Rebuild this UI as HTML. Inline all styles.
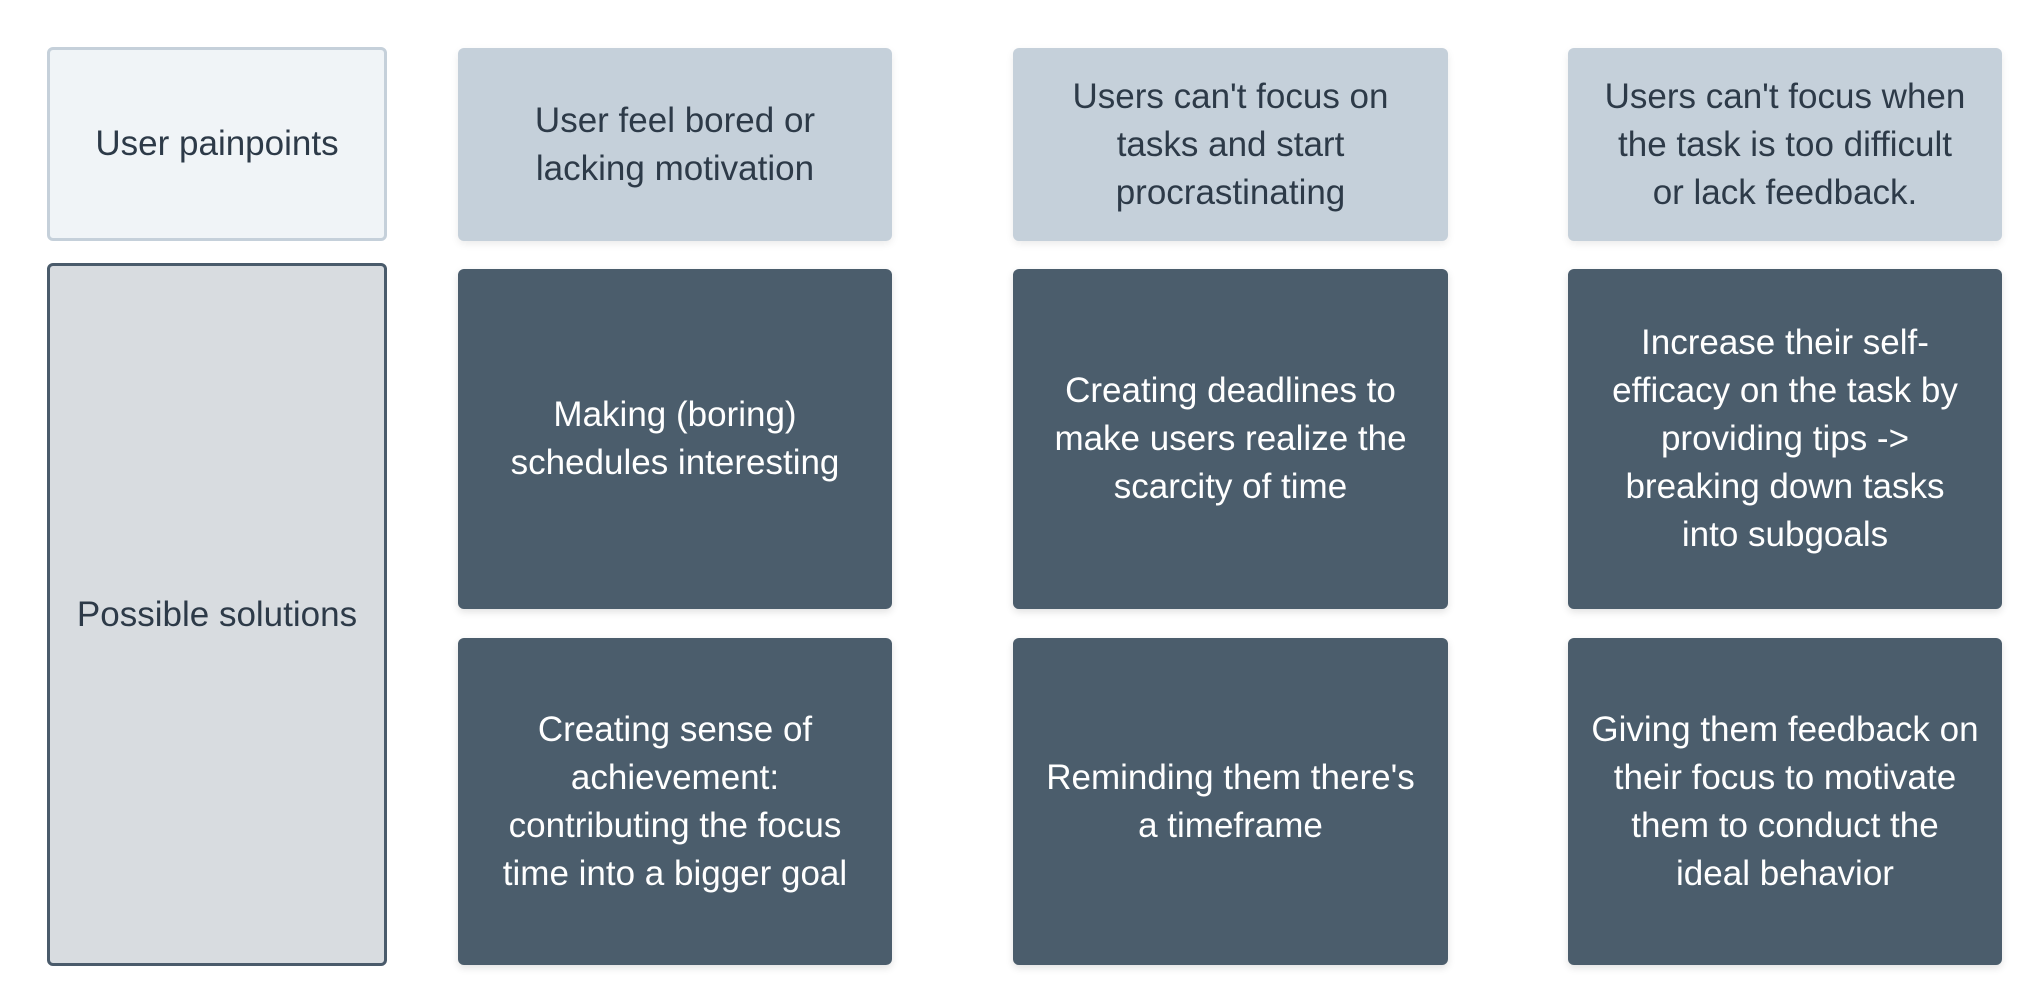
<!DOCTYPE html>
<html><head><meta charset="utf-8"><style>
html,body{margin:0;padding:0;background:#fff;}
body{width:2040px;height:1008px;position:relative;overflow:hidden;font-family:"Liberation Sans",sans-serif;}
.b{position:absolute;box-sizing:border-box;display:flex;align-items:center;justify-content:center;text-align:center;font-size:35px;line-height:48px;letter-spacing:0;border-radius:6px;}
.l1{left:47px;top:47px;width:340px;height:194px;background:#f0f4f7;border:3px solid #c5d0da;color:#2d3a48;}
.l2{left:47px;top:263px;width:340px;height:703px;background:#d8dce0;border:3px solid #4a5b6b;color:#2d3a48;}
.t{top:48px;height:193px;background:#c5d0da;color:#2d3a48;box-shadow:0 3px 8px rgba(0,0,0,0.08);}
.d{background:#4b5d6c;color:#fff;box-shadow:0 3px 8px rgba(0,0,0,0.12);}
.r2{top:269px;height:340px;}
.r3{top:638px;height:327px;}
.c1{left:458px;width:434px;}
.c2{left:1013px;width:435px;}
.c3{left:1568px;width:434px;}
.b span{padding:0 6px;white-space:nowrap;}
</style></head><body>
<div class="b l1"><span>User painpoints</span></div>
<div class="b l2"><span>Possible solutions</span></div>
<div class="b t c1"><span>User feel bored or<br>lacking motivation</span></div>
<div class="b t c2"><span>Users can't focus on<br>tasks and start<br>procrastinating</span></div>
<div class="b t c3"><span>Users can't focus when<br>the task is too difficult<br>or lack feedback.</span></div>
<div class="b d r2 c1"><span>Making (boring)<br>schedules interesting</span></div>
<div class="b d r2 c2"><span>Creating deadlines to<br>make users realize the<br>scarcity of time</span></div>
<div class="b d r2 c3"><span>Increase their self-<br>efficacy on the task by<br>providing tips -&gt;<br>breaking down tasks<br>into subgoals</span></div>
<div class="b d r3 c1"><span>Creating sense of<br>achievement:<br>contributing the focus<br>time into a bigger goal</span></div>
<div class="b d r3 c2"><span>Reminding them there's<br>a timeframe</span></div>
<div class="b d r3 c3"><span>Giving them feedback on<br>their focus to motivate<br>them to conduct the<br>ideal behavior</span></div>
</body></html>
